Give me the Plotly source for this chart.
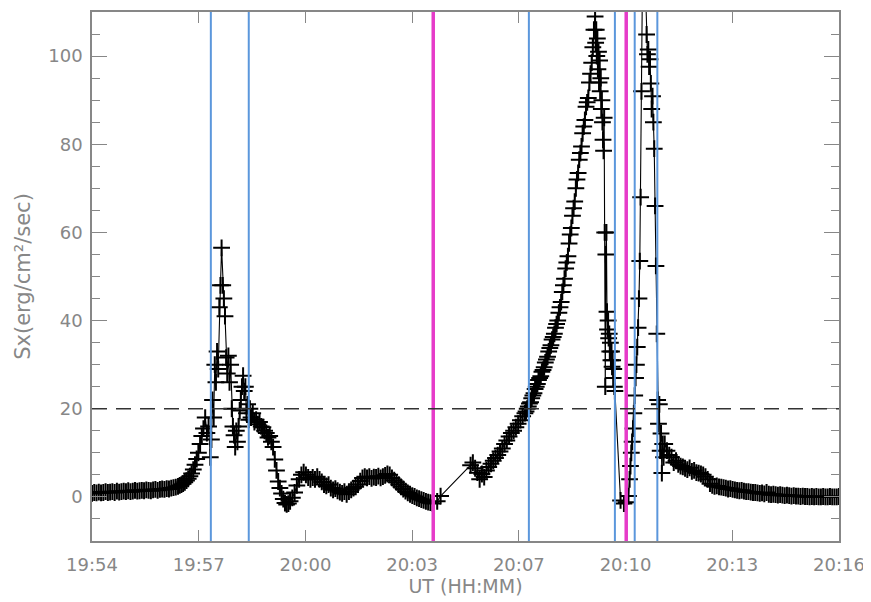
import plotly.graph_objects as go

# ---- data (seconds after 19:54:00 UT, Sx in erg/cm^2/sec) ----
quiet_pre_start, quiet_pre_step = 0, 4
quiet_pre = [0.8, 1.0, 0.9, 1.1, 0.9, 1.0, 1.2, 1.0, 1.1, 1.2, 1.0, 1.3, 1.1, 1.2, 1.3, 1.2,
             1.4, 1.2, 1.3, 1.5, 1.3, 1.4, 1.5, 1.4, 1.6, 1.5, 1.4, 1.6, 1.7, 1.5, 1.7, 1.8,
             1.7, 1.9, 1.8, 2.0, 2.1, 2.2]

rise1_start, rise1_step = 152, 3
rise1 = [2.4, 2.6, 2.8, 3.0, 3.3, 3.7, 4.1, 4.7, 5.3, 6.2, 7.3, 8.6, 10.0, 12.0, 13.8,
         15.5, 18.0, 14.5, 16.0, 9.0]

spike_start, spike_step = 211, 2
spike = [13, 22, 18, 30, 26, 33, 29, 43, 48, 56.5, 48, 45, 41, 31.6, 28, 32, 26, 30, 20, 16,
         14, 11.3, 15, 12.5, 16, 19.6, 22, 25, 27.5, 24, 25, 19, 21, 17.5, 20, 18]

decay1_start, decay1_step = 284, 3
decay1 = [19, 17, 17.5, 16.5, 17, 16, 15.8, 15, 14.5, 13.5, 13.8, 12.5, 11.3, 8.5, 6, 3.5,
          2, 0.8, -0.5, -1.4, -1.7, -1.5, -1.0]

wiggle_start, wiggle_step = 354, 4
wiggle = [-0.2, 1.0, 2.6, 4.0, 5.0, 5.6, 5.0, 4.4, 4.0, 4.4, 4.0, 4.6, 4.0, 3.4, 2.8, 2.5,
          2.8, 2.0, 1.6, 1.9, 1.4, 1.1, 0.8, 1.2, 0.6, 1.2, 1.6, 2.0, 2.3, 2.8, 3.6, 4.3,
          4.6, 4.3, 4.6, 4.2, 4.5, 4.4, 4.7, 4.3, 4.6, 4.9, 5.2, 5.0, 4.3, 3.8, 3.3, 2.8,
          2.3, 1.8, 1.3, 0.9, 0.6, 0.3, 0.1, -0.2, -0.4, -0.6, -0.8, -1.0, -1.2, -1.3, -1.5]

gap_times = [610, 616]
gap_values = [-1.0, 0.2]

rise2a_start, rise2a_step = 669, 4
rise2a = [7.2, 7.8, 6.5, 5.5, 4.0, 5.2, 4.5, 6.0, 6.8, 7.5, 8.2, 8.8, 9.5, 10.3, 11.0,
          12.0, 12.8, 13.7, 14.5, 15.0, 15.8, 16.6, 17.4, 18.3, 19.0]

rise2b_start, rise2b_step = 767, 2
rise2b = [19.4, 20.0, 20.5, 21.2, 21.5, 22.4, 23.0, 23.5, 24.5, 25.0, 25.6, 26.5, 27.0, 27.4,
          28.4, 28.8, 29.4, 30.5, 31.2, 31.8, 33.0, 33.8, 34.4, 35.7, 36.3, 37.0, 38.4, 39.2,
          40.0, 41.8, 43.0, 44.2, 46.5, 48.0, 49.5, 51.8, 53.2, 54.6, 57.5, 59.5, 61.0, 63.8,
          65.5, 67.0, 70.0, 72.0, 73.5, 76.5, 78.0, 79.5, 82.5, 84.0, 85.5, 88.5, 89.5, 90.5,
          94.0, 96.0, 98.5, 102.0, 106.0, 109.0]

peak1_start, peak1_step = 890, 1
peak1 = [103, 106, 100, 104, 97, 101, 94, 99, 92, 95, 88, 90, 85, 81, 78.5, 86, 60, 25, 55,
         60, 42, 38, 40, 36, 37, 33, 35, 31, 33, 29.5, 31, 27, 29, 25, 24]

dip_times = [934, 940, 944, 948]
dip_values = [-0.8, -1.5, -1.2, 0.2]

peak2_start, peak2_step = 950, 1.5
peak2 = [4, 7, 10, 12.5, 15.5, 19, 23, 27, 30, 34, 38.4, 45, 53.5, 68, 92, 118, 135, 128,
         120, 112, 104.9, 100.4, 101.5, 97.6, 99.3, 93.8, 88, 90.9, 85, 79, 66, 52.4, 37,
         22, 16.6, 21, 10.5, 14.4, 5.4, 12, 9]

decay2_start, decay2_step = 1012, 4
decay2 = [12.0, 10.5, 9.5, 9.0, 7.8, 8.2, 7.4, 7.0, 6.8, 6.5, 6.2, 6.6, 5.8, 6.0, 5.5, 5.4,
          5.2, 5.0, 4.6, 4.0, 3.0, 2.6, 2.4, 2.5, 2.3, 2.2, 2.1, 2.0, 1.8, 1.9, 1.7, 1.6,
          1.5, 1.4, 1.5, 1.3, 1.2, 1.2, 1.1, 1.0, 1.0, 0.9, 0.8, 0.9, 0.7, 1.0, 0.6, 0.5,
          0.6, 0.5, 0.4, 0.5, 0.4, 0.3, 0.4, 0.3, 0.2, 0.3, 0.2, 0.2, 0.1, 0.2, 0.1, 0.1,
          0.0, 0.1, 0.0, 0.1, 0.0, 0.0, 0.1, 0.0, 0.0, 0.1, 0.0, 0.0, 0.0, 0.1]

blue_lines = [210, 277, 772, 924, 959, 999]
magenta_lines = [603, 944]
threshold = 20

x_tick_vals = [0, 1320 / 7, 2 * 1320 / 7, 3 * 1320 / 7, 4 * 1320 / 7, 5 * 1320 / 7, 6 * 1320 / 7, 1320]
x_tick_text = ["19:54", "19:57", "20:00", "20:03", "20:07", "20:10", "20:13", "20:16"]

# ---- assemble series ----
t, v = [], []


def add_regular(start, step, vals):
    for i, val in enumerate(vals):
        t.append(start + step * i)
        v.append(val)


def add_points(times, vals):
    t.extend(times)
    v.extend(vals)


add_regular(quiet_pre_start, quiet_pre_step, quiet_pre)
add_regular(rise1_start, rise1_step, rise1)
add_regular(spike_start, spike_step, spike)
add_regular(decay1_start, decay1_step, decay1)
add_regular(wiggle_start, wiggle_step, wiggle)
add_points(gap_times, gap_values)
add_regular(rise2a_start, rise2a_step, rise2a)
add_regular(rise2b_start, rise2b_step, rise2b)
add_regular(peak1_start, peak1_step, peak1)
add_points(dip_times, dip_values)
add_regular(peak2_start, peak2_step, peak2)
add_regular(decay2_start, decay2_step, decay2)

GRAY = "#878787"
FONT = "DejaVu Sans"

fig = go.Figure()
fig.add_trace(go.Scatter(
    x=t, y=v, mode="lines+markers",
    line=dict(color="black", width=1.1),
    marker=dict(symbol="cross-thin", size=12, line=dict(color="black", width=2)),
    showlegend=False,
))

for xv in blue_lines:
    fig.add_shape(type="line", x0=xv, x1=xv, xref="x", y0=0, y1=1, yref="paper",
                  line=dict(color="#5b97dc", width=2), layer="above")
for xv in magenta_lines:
    fig.add_shape(type="line", x0=xv, x1=xv, xref="x", y0=0, y1=1, yref="paper",
                  line=dict(color="#e63bc9", width=3.5), layer="above")
fig.add_shape(type="line", x0=0, x1=1, xref="paper", y0=threshold, y1=threshold, yref="y",
              line=dict(color="#333333", width=1.6, dash="15px,9px"), layer="above")

# page body has an 8px margin, so the figure is offset by (8, 8) in the window
fig.update_layout(
    width=863, height=594,
    margin=dict(l=84, r=32, t=2, b=61),
    plot_bgcolor="white", paper_bgcolor="white",
    font=dict(family=FONT, color=GRAY, size=18),
)
fig.update_xaxes(
    range=[0, 1320], tickmode="array", tickvals=x_tick_vals, ticktext=x_tick_text,
    ticks="inside", ticklen=11, tickcolor=GRAY, tickwidth=1.2,
    showline=True, linecolor=GRAY, linewidth=1.5, mirror="ticks",
    showgrid=False, zeroline=False,
    tickfont=dict(size=18, color=GRAY), ticklabelstandoff=7,
    title=dict(text="UT (HH:MM)", font=dict(size=19, color=GRAY), standoff=5),
)
fig.update_yaxes(
    range=[-10, 110], tick0=0, dtick=20,
    ticks="inside", ticklen=15, tickcolor=GRAY, tickwidth=1.2,
    minor=dict(dtick=5, ticks="inside", ticklen=8, tickcolor=GRAY, tickwidth=1.2),
    showline=True, linecolor=GRAY, linewidth=1.5, mirror="ticks",
    showgrid=False, zeroline=False,
    tickfont=dict(size=18, color=GRAY), ticklabelstandoff=4,
    title=dict(text="Sx(erg/cm²/sec)", font=dict(size=21, color=GRAY), standoff=12),
)

fig.write_html("out.html")
